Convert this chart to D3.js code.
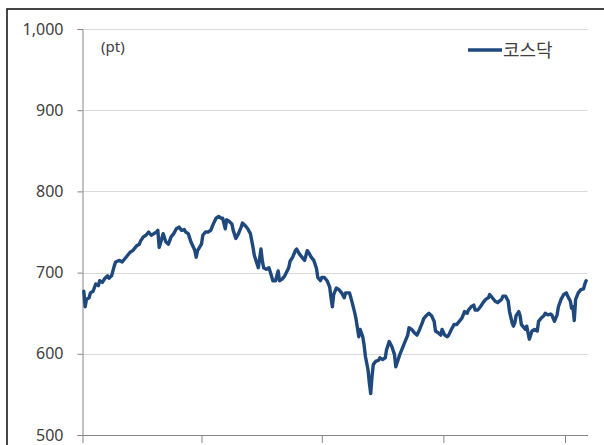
<!DOCTYPE html>
<html><head><meta charset="utf-8">
<script src="https://cdn.jsdelivr.net/npm/d3@7"></script>
<style>body{margin:0;background:#fff;}svg{display:block;}</style>
</head><body>
<svg id="c" width="604" height="445"></svg>
<script>
const seriesName = "코스닥";
const unitLabel = "(pt)";
const yTicks = [500, 600, 700, 800, 900, 1000];
const xTickDates = ["2019-01-01", "2019-04-01", "2019-07-01", "2019-10-01", "2020-01-01"];
const dates = [
"2019-01-02","2019-01-03","2019-01-04","2019-01-06","2019-01-07","2019-01-09","2019-01-11","2019-01-13","2019-01-14","2019-01-16",
"2019-01-18","2019-01-20","2019-01-21","2019-01-23","2019-01-25","2019-01-26","2019-01-29","2019-01-31","2019-02-02","2019-02-04",
"2019-02-06","2019-02-08","2019-02-10","2019-02-11","2019-02-13","2019-02-14","2019-02-16","2019-02-18","2019-02-20","2019-02-22",
"2019-02-24","2019-02-26","2019-02-27","2019-02-28","2019-03-02","2019-03-03","2019-03-05","2019-03-07","2019-03-09","2019-03-11",
"2019-03-13","2019-03-15","2019-03-17","2019-03-19","2019-03-20","2019-03-22","2019-03-24","2019-03-26","2019-03-27","2019-03-28",
"2019-03-29","2019-04-01","2019-04-02","2019-04-04","2019-04-06","2019-04-08","2019-04-10","2019-04-12","2019-04-14","2019-04-16",
"2019-04-17","2019-04-19","2019-04-20","2019-04-22","2019-04-24","2019-04-25","2019-04-27","2019-04-29","2019-05-01","2019-05-02",
"2019-05-04","2019-05-06","2019-05-08","2019-05-10","2019-05-11","2019-05-13","2019-05-14","2019-05-16","2019-05-17","2019-05-18",
"2019-05-20","2019-05-22","2019-05-23","2019-05-25","2019-05-27","2019-05-29","2019-05-30","2019-06-01","2019-06-03","2019-06-06",
"2019-06-07","2019-06-09","2019-06-11","2019-06-12","2019-06-14","2019-06-16","2019-06-18","2019-06-20","2019-06-21","2019-06-23",
"2019-06-25","2019-06-27","2019-06-28","2019-06-30","2019-07-01","2019-07-03","2019-07-05","2019-07-07","2019-07-08","2019-07-09",
"2019-07-10","2019-07-12","2019-07-14","2019-07-16","2019-07-18","2019-07-19","2019-07-21","2019-07-22","2019-07-24","2019-07-26",
"2019-07-27","2019-07-29","2019-07-30","2019-08-01","2019-08-02","2019-08-03","2019-08-05","2019-08-06","2019-08-07","2019-08-08",
"2019-08-09","2019-08-11","2019-08-13","2019-08-14","2019-08-16","2019-08-18","2019-08-19","2019-08-21","2019-08-23","2019-08-25",
"2019-08-26","2019-08-29","2019-08-31","2019-09-02","2019-09-04","2019-09-05","2019-09-07","2019-09-09","2019-09-11","2019-09-13",
"2019-09-15","2019-09-16","2019-09-18","2019-09-20","2019-09-22","2019-09-24","2019-09-25","2019-09-27","2019-09-29","2019-09-30",
"2019-10-02","2019-10-04","2019-10-05","2019-10-07","2019-10-09","2019-10-11","2019-10-13","2019-10-15","2019-10-17","2019-10-19",
"2019-10-20","2019-10-22","2019-10-24","2019-10-25","2019-10-27","2019-10-29","2019-10-31","2019-11-02","2019-11-04","2019-11-05",
"2019-11-07","2019-11-09","2019-11-11","2019-11-14","2019-11-15","2019-11-17","2019-11-19","2019-11-20","2019-11-22","2019-11-23",
"2019-11-24","2019-11-25","2019-11-27","2019-11-28","2019-11-29","2019-11-30","2019-12-02","2019-12-03","2019-12-04","2019-12-05",
"2019-12-07","2019-12-09","2019-12-11","2019-12-12","2019-12-14","2019-12-16","2019-12-17","2019-12-19","2019-12-21","2019-12-22",
"2019-12-24","2019-12-26","2019-12-27","2019-12-29","2019-12-31","2020-01-02","2020-01-03","2020-01-05","2020-01-06","2020-01-07",
"2020-01-08","2020-01-09","2020-01-11","2020-01-13","2020-01-15","2020-01-16","2020-01-17"
];
const kosdaq = [
677,658,667,669,675,677,686,684,690,688,
693,696,693,696,708,713,715,713,717,721,
725,727,731,733,735,739,744,746,750,746,
748,750,752,731,742,748,738,735,744,748,
754,756,752,753,750,748,738,731,727,719,
727,735,746,750,750,752,760,767,769,767,
767,754,765,763,760,752,742,748,756,761,
758,754,748,731,721,711,706,729,715,706,
704,706,701,690,690,702,690,692,696,706,
714,719,727,729,723,719,715,727,725,719,
715,705,694,690,694,694,690,682,669,658,
673,681,679,675,669,675,675,675,663,650,
642,621,630,621,611,597,580,564,551,572,
587,591,592,595,593,595,605,615,609,599,
584,599,607,615,623,632,630,626,623,630,
638,643,647,650,647,640,628,626,623,630,
623,621,623,630,636,636,640,644,652,650,
654,658,660,654,654,658,663,667,669,673,
669,665,663,667,671,671,665,652,638,634,
638,647,652,647,636,634,630,634,626,618,
628,630,628,640,644,647,650,648,649,648,
640,648,658,667,673,675,671,665,656,658,
641,667,675,679,680,686,690
];

const parse = d3.timeParse("%Y-%m-%d");
const data = dates.map((d, i) => ({date: parse(d), value: kosdaq[i]}));

const svg = d3.select("#c");
const plotLeft = 82.5, plotRight = 587.5, plotTop = 29, plotBottom = 435;

svg.append("rect").attr("width", 604).attr("height", 445).attr("fill", "#fff");
// outer frame (cut off at right and bottom)
svg.append("rect").attr("x", 7).attr("y", 9).attr("width", 700).attr("height", 700)
  .attr("fill", "none").attr("stroke", "#1a1a1a").attr("stroke-width", 1.6);

const x = d3.scaleTime()
  .domain([parse("2019-01-01"), parse("2020-01-18")])
  .range([plotLeft, plotRight]);
const y = d3.scaleLinear().domain([500, 1000]).range([plotBottom, plotTop]);

// gridlines
svg.append("g").selectAll("line").data(yTicks.filter(t => t > 500)).join("line")
  .attr("x1", plotLeft).attr("x2", plotRight)
  .attr("y1", d => Math.round(y(d)) + 0.5).attr("y2", d => Math.round(y(d)) + 0.5)
  .attr("stroke", "#d9d9d9").attr("stroke-width", 1);

// y axis
const yAxis = svg.append("g").attr("transform", `translate(${plotLeft},0)`)
  .call(d3.axisLeft(y).tickValues(yTicks).tickSize(5).tickPadding(14)
    .tickFormat(d3.format(",")));
yAxis.select(".domain").attr("stroke", "#868686");
yAxis.selectAll(".tick line").attr("stroke", "#868686");
yAxis.selectAll(".tick text").attr("fill", "#404040")
  .style("font-family", "'Noto Sans', 'Noto Sans CJK KR', sans-serif").style("font-size", "16px");

// x axis
const xAxis = svg.append("g").attr("transform", `translate(0,${plotBottom})`)
  .call(d3.axisBottom(x).tickValues(xTickDates.map(parse)).tickSize(8).tickSizeOuter(0).tickFormat(""));
xAxis.select(".domain").attr("stroke", "#868686");
xAxis.selectAll(".tick line").attr("stroke", "#868686");

// line
const line = d3.line().x(d => x(d.date)).y(d => y(d.value));
svg.append("path").datum(data).attr("d", line)
  .attr("fill", "none").attr("stroke", "#1f497d").attr("stroke-width", 3.4)
  .attr("stroke-linejoin", "round").attr("stroke-linecap", "round");

// unit label
svg.append("text").attr("x", 101).attr("y", 52).text(unitLabel)
  .attr("fill", "#404040").style("font-family", "'Noto Sans', sans-serif").style("font-size", "15px");

// legend
svg.append("line").attr("x1", 468).attr("x2", 502).attr("y1", 50).attr("y2", 50)
  .attr("stroke", "#1f497d").attr("stroke-width", 3.5);
svg.append("text").attr("x", 503).attr("y", 57).text(seriesName)
  .attr("fill", "#404040").style("font-family", "'Noto Sans CJK KR', sans-serif").style("font-size", "18px");
</script>
</body></html>
